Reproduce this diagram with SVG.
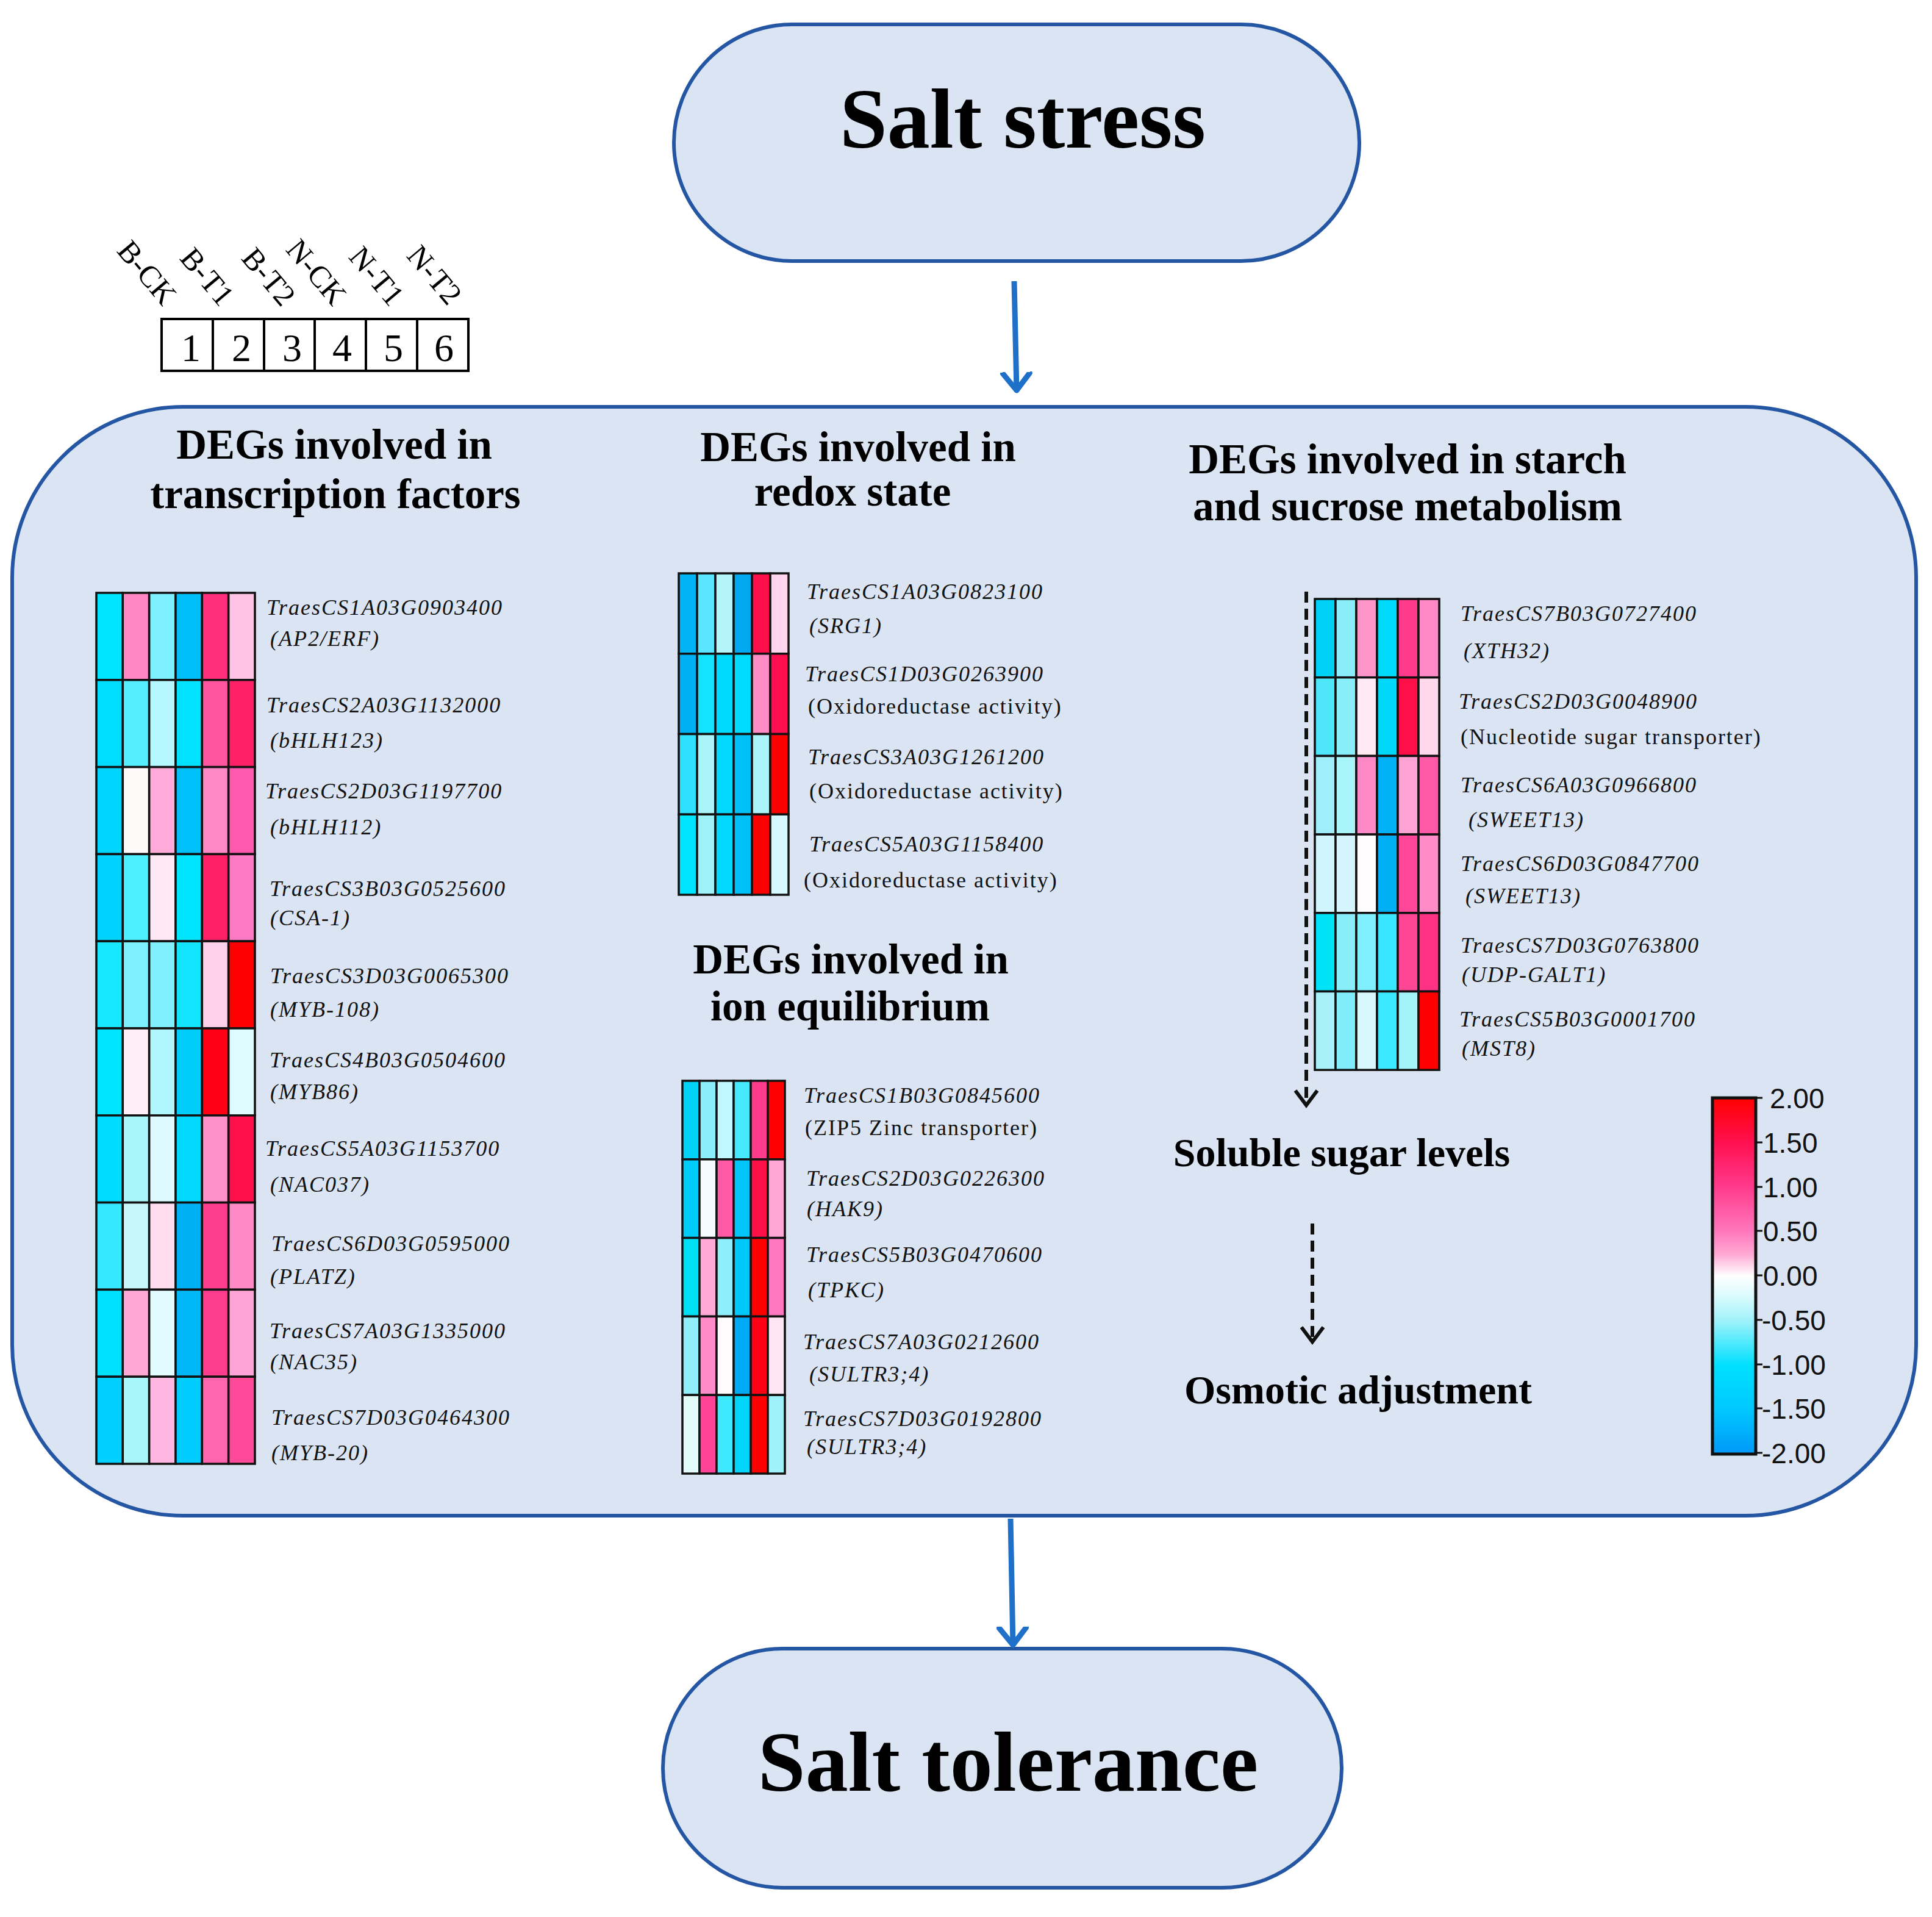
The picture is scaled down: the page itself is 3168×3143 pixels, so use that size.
<svg xmlns="http://www.w3.org/2000/svg" width="3168" height="3143" viewBox="0 0 3168 3143">
<style>
.box{fill:#dae4f3;stroke:#2456a4;stroke-width:6}
.big{font-family:"Liberation Serif",serif;font-weight:bold;font-size:140px;text-anchor:middle;fill:#000}
.title{font-family:"Liberation Serif",serif;font-weight:bold;font-size:69px;text-anchor:middle;fill:#000}
.gene{font-family:"Liberation Serif",serif;font-style:italic;font-size:36px;letter-spacing:2px;fill:#111}
.desc{font-family:"Liberation Serif",serif;font-size:36px;letter-spacing:2px;fill:#111}
.cb{font-family:"Liberation Sans",sans-serif;font-size:46px;fill:#111}
.samp{font-family:"Liberation Serif",serif;font-size:50px;fill:#000}
.num{font-family:"Liberation Serif",serif;font-size:64px;text-anchor:middle;fill:#000}
.cell rect{stroke:#111;stroke-width:3.5}
.blue{stroke:#1f70c8;stroke-width:9;fill:none}
.dash{stroke:#111;stroke-width:6;fill:none;stroke-dasharray:18 10}
</style>
<defs>
<marker id="bh" markerUnits="userSpaceOnUse" viewBox="-30 -30 60 60" refX="0" refY="0" markerWidth="60" markerHeight="60" orient="auto">
<path d="M-28,-22 L0,0 L-28,22" fill="none" stroke="#1f70c8" stroke-width="9" stroke-linecap="round" stroke-linejoin="round"/>
</marker>
<marker id="dh" markerUnits="userSpaceOnUse" viewBox="-30 -30 60 60" refX="0" refY="0" markerWidth="60" markerHeight="60" orient="auto">
<path d="M-24,-18 L0,0 L-24,18" fill="none" stroke="#111" stroke-width="6"/>
</marker>
<linearGradient id="cbg" x1="0" y1="0" x2="0" y2="1">
<stop offset="0" stop-color="#ff0000"/>
<stop offset="0.125" stop-color="#ff1050"/>
<stop offset="0.25" stop-color="#ff3a8c"/>
<stop offset="0.375" stop-color="#ff78bc"/>
<stop offset="0.44" stop-color="#ffaad4"/>
<stop offset="0.5" stop-color="#ffffff"/>
<stop offset="0.56" stop-color="#d8fafd"/>
<stop offset="0.625" stop-color="#a0f2fa"/>
<stop offset="0.75" stop-color="#00e0ff"/>
<stop offset="0.875" stop-color="#00c8ff"/>
<stop offset="1" stop-color="#0098f8"/>
</linearGradient>
</defs>
<rect width="3168" height="3143" fill="#ffffff"/>

<g id="salt-stress">
<rect class="box" x="1105" y="40" width="1124" height="388" rx="194"/>
<text class="big" x="1677" y="242">Salt stress</text>
</g>

<g id="main-box">
<rect class="box" x="20" y="667" width="3122" height="1818" rx="280"/>
</g>

<g id="salt-tolerance">
<rect class="box" x="1087" y="2703" width="1113" height="392" rx="196"/>
<text class="big" x="1653" y="2936">Salt tolerance</text>
</g>

<g id="connectors">
<path class="blue" d="M1663,461 L1667,640" marker-end="url(#bh)"/>
<path class="blue" d="M1657,2490 L1661,2697" marker-end="url(#bh)"/>
<path class="dash" d="M2142,970 L2142,1812" marker-end="url(#dh)"/>
<path class="dash" d="M2152,2006 L2152,2200" marker-end="url(#dh)"/>
</g>

<g id="sample-legend">
<rect x="265" y="523" width="503" height="85" fill="#fff" stroke="#000" stroke-width="4"/>
<path d="M349,523 V608 M433,523 V608 M516,523 V608 M600,523 V608 M684,523 V608" stroke="#000" stroke-width="4"/>
<text class="num" x="313" y="592">1</text>
<text class="num" x="396" y="592">2</text>
<text class="num" x="479" y="592">3</text>
<text class="num" x="561" y="592">4</text>
<text class="num" x="645" y="592">5</text>
<text class="num" x="728" y="592">6</text>
<text class="samp" transform="translate(190,412) rotate(50)">B-CK</text>
<text class="samp" transform="translate(293,424) rotate(50)">B-T1</text>
<text class="samp" transform="translate(394,424) rotate(50)">B-T2</text>
<text class="samp" transform="translate(467,410) rotate(50)">N-CK</text>
<text class="samp" transform="translate(570,422) rotate(50)">N-T1</text>
<text class="samp" transform="translate(665,420) rotate(50)">N-T2</text>
</g>

<g id="tf-section">
<text class="title" x="548" y="752">DEGs involved in</text>
<text class="title" x="550" y="833">transcription factors</text>
<g class="cell" transform="translate(158,972)">
<rect x="0" y="0" width="43.3" height="142.8" fill="#00e5ff"/><rect x="43.3" y="0" width="43.3" height="142.8" fill="#ff88c4"/><rect x="86.7" y="0" width="43.3" height="142.8" fill="#7df0ff"/><rect x="130" y="0" width="43.3" height="142.8" fill="#00bff8"/><rect x="173.3" y="0" width="43.3" height="142.8" fill="#ff2f7e"/><rect x="216.7" y="0" width="43.3" height="142.8" fill="#ffc4e4"/>
<rect x="0" y="142.8" width="43.3" height="142.8" fill="#00ddff"/><rect x="43.3" y="142.8" width="43.3" height="142.8" fill="#55eeff"/><rect x="86.7" y="142.8" width="43.3" height="142.8" fill="#b5f7ff"/><rect x="130" y="142.8" width="43.3" height="142.8" fill="#00e2ff"/><rect x="173.3" y="142.8" width="43.3" height="142.8" fill="#ff559f"/><rect x="216.7" y="142.8" width="43.3" height="142.8" fill="#ff2068"/>
<rect x="0" y="285.6" width="43.3" height="142.8" fill="#00d5ff"/><rect x="43.3" y="285.6" width="43.3" height="142.8" fill="#fffafa"/><rect x="86.7" y="285.6" width="43.3" height="142.8" fill="#ffaad8"/><rect x="130" y="285.6" width="43.3" height="142.8" fill="#00c0fa"/><rect x="173.3" y="285.6" width="43.3" height="142.8" fill="#ff88c6"/><rect x="216.7" y="285.6" width="43.3" height="142.8" fill="#ff5ab0"/>
<rect x="0" y="428.4" width="43.3" height="142.8" fill="#00d2ff"/><rect x="43.3" y="428.4" width="43.3" height="142.8" fill="#4df0ff"/><rect x="86.7" y="428.4" width="43.3" height="142.8" fill="#ffe8f4"/><rect x="130" y="428.4" width="43.3" height="142.8" fill="#00e5ff"/><rect x="173.3" y="428.4" width="43.3" height="142.8" fill="#ff2068"/><rect x="216.7" y="428.4" width="43.3" height="142.8" fill="#ff7ac4"/>
<rect x="0" y="571.2" width="43.3" height="142.8" fill="#17e8ff"/><rect x="43.3" y="571.2" width="43.3" height="142.8" fill="#7df0ff"/><rect x="86.7" y="571.2" width="43.3" height="142.8" fill="#80f0ff"/><rect x="130" y="571.2" width="43.3" height="142.8" fill="#14e5ff"/><rect x="173.3" y="571.2" width="43.3" height="142.8" fill="#ffd0ea"/><rect x="216.7" y="571.2" width="43.3" height="142.8" fill="#ff0000"/>
<rect x="0" y="714" width="43.3" height="142.8" fill="#00e5ff"/><rect x="43.3" y="714" width="43.3" height="142.8" fill="#ffeef6"/><rect x="86.7" y="714" width="43.3" height="142.8" fill="#b0f5fc"/><rect x="130" y="714" width="43.3" height="142.8" fill="#00cdfa"/><rect x="173.3" y="714" width="43.3" height="142.8" fill="#ff0015"/><rect x="216.7" y="714" width="43.3" height="142.8" fill="#e0fbff"/>
<rect x="0" y="856.8" width="43.3" height="142.8" fill="#00dcff"/><rect x="43.3" y="856.8" width="43.3" height="142.8" fill="#a8f5fa"/><rect x="86.7" y="856.8" width="43.3" height="142.8" fill="#def9ff"/><rect x="130" y="856.8" width="43.3" height="142.8" fill="#00d8ff"/><rect x="173.3" y="856.8" width="43.3" height="142.8" fill="#ff90c8"/><rect x="216.7" y="856.8" width="43.3" height="142.8" fill="#ff0f4a"/>
<rect x="0" y="999.6" width="43.3" height="142.8" fill="#35e8ff"/><rect x="43.3" y="999.6" width="43.3" height="142.8" fill="#c8f7fa"/><rect x="86.7" y="999.6" width="43.3" height="142.8" fill="#ffdcef"/><rect x="130" y="999.6" width="43.3" height="142.8" fill="#00b0f5"/><rect x="173.3" y="999.6" width="43.3" height="142.8" fill="#ff3d8e"/><rect x="216.7" y="999.6" width="43.3" height="142.8" fill="#ff88c6"/>
<rect x="0" y="1142.4" width="43.3" height="142.8" fill="#00e0ff"/><rect x="43.3" y="1142.4" width="43.3" height="142.8" fill="#ffa8d6"/><rect x="86.7" y="1142.4" width="43.3" height="142.8" fill="#e2fbff"/><rect x="130" y="1142.4" width="43.3" height="142.8" fill="#00b8f8"/><rect x="173.3" y="1142.4" width="43.3" height="142.8" fill="#ff3d8e"/><rect x="216.7" y="1142.4" width="43.3" height="142.8" fill="#ffa4d6"/>
<rect x="0" y="1285.2" width="43.3" height="142.8" fill="#00d0ff"/><rect x="43.3" y="1285.2" width="43.3" height="142.8" fill="#a8f5fa"/><rect x="86.7" y="1285.2" width="43.3" height="142.8" fill="#ffb6e0"/><rect x="130" y="1285.2" width="43.3" height="142.8" fill="#00ccff"/><rect x="173.3" y="1285.2" width="43.3" height="142.8" fill="#ff66b0"/><rect x="216.7" y="1285.2" width="43.3" height="142.8" fill="#ff4a9a"/>
</g>
<text class="gene" x="437" y="1008">TraesCS1A03G0903400</text><text class="gene" x="443" y="1059">(AP2/ERF)</text>
<text class="gene" x="437" y="1168">TraesCS2A03G1132000</text><text class="gene" x="443" y="1226">(bHLH123)</text>
<text class="gene" x="435" y="1309">TraesCS2D03G1197700</text><text class="gene" x="443" y="1368">(bHLH112)</text>
<text class="gene" x="442" y="1469">TraesCS3B03G0525600</text><text class="gene" x="443" y="1517">(CSA-1)</text>
<text class="gene" x="443" y="1612">TraesCS3D03G0065300</text><text class="gene" x="443" y="1667">(MYB-108)</text>
<text class="gene" x="442" y="1750">TraesCS4B03G0504600</text><text class="gene" x="443" y="1802">(MYB86)</text>
<text class="gene" x="435" y="1895">TraesCS5A03G1153700</text><text class="gene" x="443" y="1954">(NAC037)</text>
<text class="gene" x="445" y="2051">TraesCS6D03G0595000</text><text class="gene" x="443" y="2105">(PLATZ)</text>
<text class="gene" x="442" y="2194">TraesCS7A03G1335000</text><text class="gene" x="443" y="2245">(NAC35)</text>
<text class="gene" x="445" y="2336">TraesCS7D03G0464300</text><text class="gene" x="445" y="2394">(MYB-20)</text>
</g>

<g id="redox-section">
<text class="title" x="1407" y="756">DEGs involved in</text>
<text class="title" x="1398" y="829">redox state</text>
<g class="cell" transform="translate(1113,940)">
<rect x="0" y="0" width="30" height="131.75" fill="#00b4f5"/><rect x="30" y="0" width="30" height="131.75" fill="#5ae6ff"/><rect x="60" y="0" width="30" height="131.75" fill="#b4f5fa"/><rect x="90" y="0" width="30" height="131.75" fill="#00a8f0"/><rect x="120" y="0" width="30" height="131.75" fill="#ff0f4a"/><rect x="150" y="0" width="30" height="131.75" fill="#ffd4ec"/>
<rect x="0" y="131.75" width="30" height="131.75" fill="#00b0f5"/><rect x="30" y="131.75" width="30" height="131.75" fill="#14e2ff"/><rect x="60" y="131.75" width="30" height="131.75" fill="#00daff"/><rect x="90" y="131.75" width="30" height="131.75" fill="#00dcff"/><rect x="120" y="131.75" width="30" height="131.75" fill="#ff8cc4"/><rect x="150" y="131.75" width="30" height="131.75" fill="#ff0f50"/>
<rect x="0" y="263.5" width="30" height="131.75" fill="#30e0ff"/><rect x="30" y="263.5" width="30" height="131.75" fill="#aaf5fa"/><rect x="60" y="263.5" width="30" height="131.75" fill="#00d8ff"/><rect x="90" y="263.5" width="30" height="131.75" fill="#00c0f8"/><rect x="120" y="263.5" width="30" height="131.75" fill="#aaf5fa"/><rect x="150" y="263.5" width="30" height="131.75" fill="#ff0000"/>
<rect x="0" y="395.25" width="30" height="131.75" fill="#00e5ff"/><rect x="30" y="395.25" width="30" height="131.75" fill="#a0f2fa"/><rect x="60" y="395.25" width="30" height="131.75" fill="#00d8ff"/><rect x="90" y="395.25" width="30" height="131.75" fill="#00c0f8"/><rect x="120" y="395.25" width="30" height="131.75" fill="#ff0000"/><rect x="150" y="395.25" width="30" height="131.75" fill="#d6f9ff"/>
</g>
<text class="gene" x="1323" y="982">TraesCS1A03G0823100</text><text class="gene" x="1327" y="1038">(SRG1)</text>
<text class="gene" x="1320" y="1117">TraesCS1D03G0263900</text><text class="desc" x="1325" y="1170">(Oxidoreductase activity)</text>
<text class="gene" x="1325" y="1253">TraesCS3A03G1261200</text><text class="desc" x="1327" y="1309">(Oxidoreductase activity)</text>
<text class="gene" x="1327" y="1396">TraesCS5A03G1158400</text><text class="desc" x="1318" y="1455">(Oxidoreductase activity)</text>
</g>

<g id="ion-section">
<text class="title" x="1395" y="1596">DEGs involved in</text>
<text class="title" x="1394" y="1673">ion equilibrium</text>
<g class="cell" transform="translate(1119,1772)">
<rect x="0" y="0" width="28" height="128.8" fill="#00d2f8"/><rect x="28" y="0" width="28" height="128.8" fill="#8aeefa"/><rect x="56" y="0" width="28" height="128.8" fill="#c0f7ff"/><rect x="84" y="0" width="28" height="128.8" fill="#45e8ff"/><rect x="112" y="0" width="28" height="128.8" fill="#ff3c8c"/><rect x="140" y="0" width="28" height="128.8" fill="#ff0000"/>
<rect x="0" y="128.8" width="28" height="128.8" fill="#00ccfa"/><rect x="28" y="128.8" width="28" height="128.8" fill="#f5fbfb"/><rect x="56" y="128.8" width="28" height="128.8" fill="#ff5aa5"/><rect x="84" y="128.8" width="28" height="128.8" fill="#00c4fa"/><rect x="112" y="128.8" width="28" height="128.8" fill="#ff0f48"/><rect x="140" y="128.8" width="28" height="128.8" fill="#ffa8d6"/>
<rect x="0" y="257.6" width="28" height="128.8" fill="#00e0f5"/><rect x="28" y="257.6" width="28" height="128.8" fill="#ffaad6"/><rect x="56" y="257.6" width="28" height="128.8" fill="#90eefa"/><rect x="84" y="257.6" width="28" height="128.8" fill="#00c8fa"/><rect x="112" y="257.6" width="28" height="128.8" fill="#ff0000"/><rect x="140" y="257.6" width="28" height="128.8" fill="#ff78c0"/>
<rect x="0" y="386.4" width="28" height="128.8" fill="#90eefa"/><rect x="28" y="386.4" width="28" height="128.8" fill="#ff8cc8"/><rect x="56" y="386.4" width="28" height="128.8" fill="#fffafc"/><rect x="84" y="386.4" width="28" height="128.8" fill="#00aaf5"/><rect x="112" y="386.4" width="28" height="128.8" fill="#ff0014"/><rect x="140" y="386.4" width="28" height="128.8" fill="#ffe6f4"/>
<rect x="0" y="515.2" width="28" height="128.8" fill="#e4fbfc"/><rect x="28" y="515.2" width="28" height="128.8" fill="#ff4498"/><rect x="56" y="515.2" width="28" height="128.8" fill="#3ee8ff"/><rect x="84" y="515.2" width="28" height="128.8" fill="#00d4fa"/><rect x="112" y="515.2" width="28" height="128.8" fill="#ff0000"/><rect x="140" y="515.2" width="28" height="128.8" fill="#a0f2fa"/>
</g>
<text class="gene" x="1318" y="1808">TraesCS1B03G0845600</text><text class="desc" x="1320" y="1861">(ZIP5 Zinc transporter)</text>
<text class="gene" x="1322" y="1944">TraesCS2D03G0226300</text><text class="gene" x="1323" y="1994">(HAK9)</text>
<text class="gene" x="1322" y="2069">TraesCS5B03G0470600</text><text class="gene" x="1325" y="2127">(TPKC)</text>
<text class="gene" x="1317" y="2212">TraesCS7A03G0212600</text><text class="gene" x="1327" y="2265">(SULTR3;4)</text>
<text class="gene" x="1317" y="2338">TraesCS7D03G0192800</text><text class="gene" x="1323" y="2384">(SULTR3;4)</text>
</g>

<g id="starch-section">
<text class="title" x="2308" y="776">DEGs involved in starch</text>
<text class="title" x="2308" y="853">and sucrose metabolism</text>
<g class="cell" transform="translate(2156,982)">
<rect x="0" y="0" width="34" height="128.7" fill="#00d2f5"/><rect x="34" y="0" width="34" height="128.7" fill="#8aeefa"/><rect x="68" y="0" width="34" height="128.7" fill="#ff94c8"/><rect x="102" y="0" width="34" height="128.7" fill="#00dafa"/><rect x="136" y="0" width="34" height="128.7" fill="#ff3a8a"/><rect x="170" y="0" width="34" height="128.7" fill="#ff88c6"/>
<rect x="0" y="128.7" width="34" height="128.7" fill="#50e6fa"/><rect x="34" y="128.7" width="34" height="128.7" fill="#88eefa"/><rect x="68" y="128.7" width="34" height="128.7" fill="#ffeaf4"/><rect x="102" y="128.7" width="34" height="128.7" fill="#00d8fa"/><rect x="136" y="128.7" width="34" height="128.7" fill="#ff0f48"/><rect x="170" y="128.7" width="34" height="128.7" fill="#ffd8ee"/>
<rect x="0" y="257.4" width="34" height="128.7" fill="#a0eefa"/><rect x="34" y="257.4" width="34" height="128.7" fill="#a8f5fa"/><rect x="68" y="257.4" width="34" height="128.7" fill="#ff88c6"/><rect x="102" y="257.4" width="34" height="128.7" fill="#00b2f5"/><rect x="136" y="257.4" width="34" height="128.7" fill="#ffa2d4"/><rect x="170" y="257.4" width="34" height="128.7" fill="#ff5aa8"/>
<rect x="0" y="386.1" width="34" height="128.7" fill="#d0f5fc"/><rect x="34" y="386.1" width="34" height="128.7" fill="#d4f5fc"/><rect x="68" y="386.1" width="34" height="128.7" fill="#fffdfe"/><rect x="102" y="386.1" width="34" height="128.7" fill="#00b0f5"/><rect x="136" y="386.1" width="34" height="128.7" fill="#ff4698"/><rect x="170" y="386.1" width="34" height="128.7" fill="#ff8cc6"/>
<rect x="0" y="514.8" width="34" height="128.7" fill="#00e2f5"/><rect x="34" y="514.8" width="34" height="128.7" fill="#88eefa"/><rect x="68" y="514.8" width="34" height="128.7" fill="#80f0ff"/><rect x="102" y="514.8" width="34" height="128.7" fill="#38e6ff"/><rect x="136" y="514.8" width="34" height="128.7" fill="#ff4694"/><rect x="170" y="514.8" width="34" height="128.7" fill="#ff3284"/>
<rect x="0" y="643.5" width="34" height="128.7" fill="#a8f0fa"/><rect x="34" y="643.5" width="34" height="128.7" fill="#80eefa"/><rect x="68" y="643.5" width="34" height="128.7" fill="#d8f8fd"/><rect x="102" y="643.5" width="34" height="128.7" fill="#3ae8ff"/><rect x="136" y="643.5" width="34" height="128.7" fill="#a4f2fa"/><rect x="170" y="643.5" width="34" height="128.7" fill="#ff0000"/>
</g>
<text class="gene" x="2395" y="1018">TraesCS7B03G0727400</text><text class="gene" x="2400" y="1079">(XTH32)</text>
<text class="gene" x="2392" y="1162">TraesCS2D03G0048900</text><text class="desc" x="2395" y="1220">(Nucleotide sugar transporter)</text>
<text class="gene" x="2395" y="1299">TraesCS6A03G0966800</text><text class="gene" x="2408" y="1356">(SWEET13)</text>
<text class="gene" x="2395" y="1428">TraesCS6D03G0847700</text><text class="gene" x="2403" y="1481">(SWEET13)</text>
<text class="gene" x="2395" y="1562">TraesCS7D03G0763800</text><text class="gene" x="2397" y="1610">(UDP-GALT1)</text>
<text class="gene" x="2393" y="1683">TraesCS5B03G0001700</text><text class="gene" x="2397" y="1731">(MST8)</text>
</g>

<g id="soluble-sugar">
<text class="title" x="2200" y="1912" style="font-size:66px">Soluble sugar levels</text>
</g>
<g id="osmotic-adjustment">
<text class="title" x="2227" y="2301" style="font-size:66px">Osmotic adjustment</text>
</g>

<g id="colorbar">
<rect x="2808" y="1800" width="71" height="584" fill="url(#cbg)" stroke="#111" stroke-width="5"/>
<path d="M2879,1800 H2890 M2879,1873 H2890 M2879,1946 H2890 M2879,2018 H2890 M2879,2091 H2890 M2879,2164 H2890 M2879,2237 H2890 M2879,2309 H2890 M2879,2382 H2890" stroke="#111" stroke-width="3"/>
<text class="cb" x="2902" y="1817">2.00</text>
<text class="cb" x="2891" y="1890">1.50</text>
<text class="cb" x="2891" y="1963">1.00</text>
<text class="cb" x="2891" y="2035">0.50</text>
<text class="cb" x="2891" y="2108">0.00</text>
<text class="cb" x="2889" y="2181">-0.50</text>
<text class="cb" x="2889" y="2254">-1.00</text>
<text class="cb" x="2889" y="2326">-1.50</text>
<text class="cb" x="2889" y="2399">-2.00</text>
</g>
</svg>
